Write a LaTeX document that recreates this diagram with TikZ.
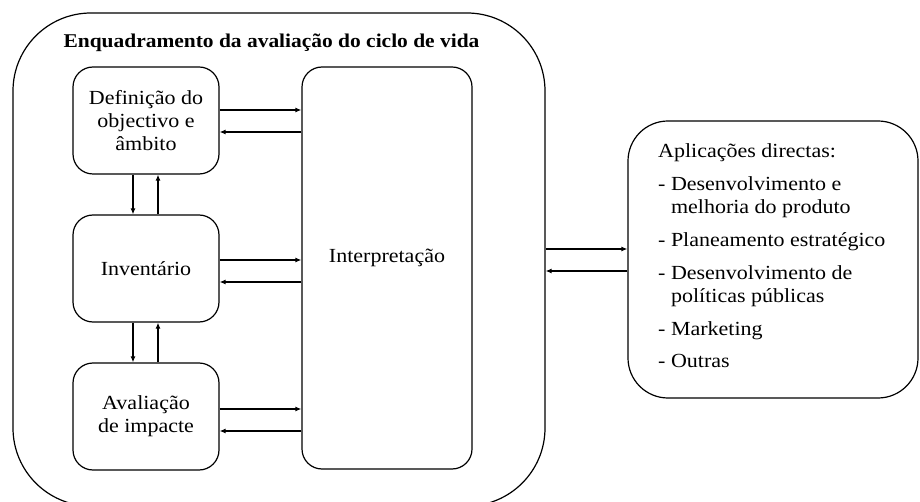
\documentclass[tikz,border=0pt]{standalone}
\usepackage{fontspec}
\setmainfont{Liberation Serif}[FakeStretch=1.1]
\usetikzlibrary{arrows.meta}
\begin{document}
\begin{tikzpicture}[x=1pt,y=-1pt,
  every node/.style={font=\fontsize{20}{23}\selectfont},
  box/.style={draw, line width=1.2pt, rounded corners=20pt, align=center, inner sep=0pt},
  arr/.style={line width=1.2pt, -{Latex[length=6pt,width=5pt]}}]
\useasboundingbox (0,0) rectangle (920,502);
\node[draw, line width=1.2pt, rounded corners=78pt, minimum width=532pt, minimum height=493pt, inner sep=0pt] (frame) at (279,259.5) {};
\node[font=\fontsize{19.5}{23}\selectfont\bfseries] (title) at (271.5,43) {Enquadramento da avaliação do ciclo de vida};
\node[box, minimum width=146pt, minimum height=107pt] (def) at (146,120.5) {Definição do\\objectivo e\\âmbito};
\node[box, minimum width=146pt, minimum height=107pt] (inv) at (146,268.5) {Inventário};
\node[box, minimum width=146pt, minimum height=107pt] (aval) at (146,416.5) {Avaliação\\de impacte};
\node[box, minimum width=170pt, minimum height=402pt] (interp) at (387,268) {};
\node (interpT) at (387,258) {Interpretação};
\node[draw, line width=1.2pt, rounded corners=40pt, minimum width=290pt, minimum height=277pt, inner sep=0pt] (app) at (773,259.5) {};
\node[anchor=west, align=left, inner sep=0pt] (appT) at (658,256) {Aplicações directas:\\[10pt]
- Desenvolvimento e\\
\phantom{- }melhoria do produto\\[10pt]
- Planeamento estratégico\\[10pt]
- Desenvolvimento de\\
\phantom{- }políticas públicas\\[10pt]
- Marketing\\[9pt]
- Outras};
% vertical arrows
\draw[arr] ([xshift=-13pt]def.south) -- ([xshift=-13pt]inv.north);
\draw[arr] ([xshift=12pt]inv.north) -- ([xshift=12pt]def.south);
\draw[arr] ([xshift=-13pt]inv.south) -- ([xshift=-13pt]aval.north);
\draw[arr] ([xshift=12pt]aval.north) -- ([xshift=12pt]inv.south);
% horizontal arrows
\draw[arr] ([yshift=10.5pt]def.east) -- ([yshift=10.5pt]def.east -| interp.west);
\draw[arr] ([yshift=-11.5pt]def.east -| interp.west) -- ([yshift=-11.5pt]def.east);
\draw[arr] ([yshift=8.5pt]inv.east) -- ([yshift=8.5pt]inv.east -| interp.west);
\draw[arr] ([yshift=-13.5pt]inv.east -| interp.west) -- ([yshift=-13.5pt]inv.east);
\draw[arr] ([yshift=7.5pt]aval.east) -- ([yshift=7.5pt]aval.east -| interp.west);
\draw[arr] ([yshift=-14.5pt]aval.east -| interp.west) -- ([yshift=-14.5pt]aval.east);
% frame <-> applications
\draw[arr] ([yshift=10.5pt]frame.east) -- ([yshift=10.5pt]frame.east -| app.west);
\draw[arr] ([yshift=-11.5pt]frame.east -| app.west) -- ([yshift=-11.5pt]frame.east);
\end{tikzpicture}
\end{document}
